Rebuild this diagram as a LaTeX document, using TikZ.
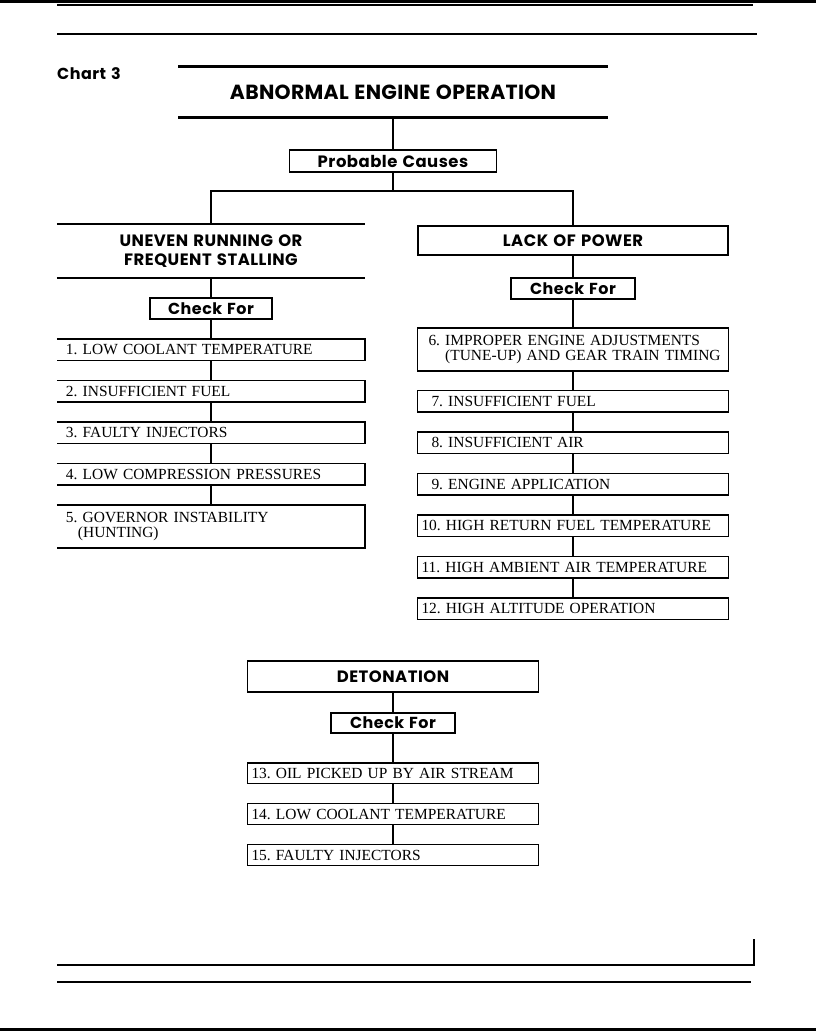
\documentclass[tikz,border=0pt]{standalone}
\usepackage{fontspec}
\setmainfont{Liberation Serif}
\newfontfamily\headfont[LetterSpace=3,WordSpace=1.3]{Poppins}
\newfontfamily\titlefont[LetterSpace=1.5,WordSpace=1.2]{Poppins}
\usepackage{tikz}
\usetikzlibrary{positioning}
\tikzset{
    heading/.style  ={rectangle, draw=black, line width=1.6bp, outer sep=0pt, inner sep=0pt, align=center, font=\headfont\bfseries\fontsize{16.5}{19}\selectfont},
    checkbox/.style ={rectangle, draw=black, line width=1.6bp, outer sep=0pt, minimum width=122bp, minimum height=21bp, inner sep=0pt, font=\headfont\bfseries\fontsize{16}{19}\selectfont},
    cause/.style    ={rectangle, draw=black, line width=1.3bp, outer sep=0pt, minimum height=21.5bp, inner xsep=4bp, inner ysep=0pt, align=left, font=\fontsize{15.5}{15.5}\selectfont},
    opencause/.style={cause, draw=none, inner xsep=9bp, text width=290bp},
    link/.style     ={line width=2.2bp},
    pagerule/.style ={line width=1.4bp},
}

\begin{document}
\frenchspacing
\begin{tikzpicture}[x=1bp, y=-1bp]
    \useasboundingbox (0,0) rectangle (816,1031);
    % page edges and rules
    \fill (0,0) rectangle (816,2.5);
    \fill (0,1027.5) rectangle (816,1031);
    \draw[pagerule] (57,5) -- (753,5);
    \draw[pagerule] (57,34) -- (757,34);
    \draw[pagerule] (57,965) -- (754,965) -- (754,939);
    \draw[pagerule] (57,982) -- (751,982);

    % title
    \node[anchor=base west, inner sep=0pt, font=\headfont\bfseries\fontsize{16}{19}\selectfont] (chart) at (57,79) {Chart 3};
    \node[minimum width=429bp, minimum height=51bp, inner sep=0pt, outer sep=0pt, font=\titlefont\bfseries\fontsize{20.5}{24}\selectfont] (title) at (393,92) {ABNORMAL ENGINE OPERATION};
    \draw[line width=3bp] (title.north west) -- (title.north east) (title.south west) -- (title.south east);
    \node[heading, minimum width=207bp, minimum height=22bp] (causes) at (393,161) {Probable Causes};
    \draw[link] (title) -- (causes);
    \draw[link] (causes.south) -- ++(0,19) coordinate (split);

    % left branch
    \node[heading, draw=none, minimum width=308bp, minimum height=54bp] (uneven) at (211,251) {UNEVEN RUNNING OR\\FREQUENT STALLING};
    \draw[pagerule] (uneven.north west) -- (uneven.north east) (uneven.south west) -- (uneven.south east);
    \node[checkbox, below=20bp of uneven] (lcheck) {Check For};
    \node[opencause, below=20bp of lcheck] (c1) {1. LOW COOLANT TEMPERATURE};
    \node[opencause, below=20bp of c1] (c2) {2. INSUFFICIENT FUEL};
    \node[opencause, below=20bp of c2] (c3) {3. FAULTY INJECTORS};
    \node[opencause, below=20bp of c3] (c4) {4. LOW COMPRESSION PRESSURES};
    \node[opencause, below=20bp of c4, minimum height=43bp] (c5) {5. GOVERNOR INSTABILITY\\\hspace*{12bp}(HUNTING)};
    \foreach \n in {c1,c2,c3,c4,c5}
        \draw[line width=1.3bp] (\n.north west) -- (\n.north east) -- (\n.south east) -- (\n.south west);

    % right branch
    \node[heading, minimum width=310bp, minimum height=29bp] (lack) at (573,240.5) {LACK OF POWER};
    \node[checkbox, below=23bp of lack, minimum width=124bp] (rcheck) {Check For};
    \node[cause, text width=303bp, below=29bp of rcheck, minimum height=43bp] (c6) {\hspace*{7bp}6. IMPROPER ENGINE ADJUSTMENTS\\\hspace*{7bp}\hphantom{6.}\ (TUNE-UP) AND GEAR TRAIN TIMING};
    \node[cause, text width=303bp, below=19.5bp of c6] (c7) {\hspace*{10bp}7. INSUFFICIENT FUEL};
    \node[cause, text width=303bp, below=20bp of c7] (c8) {\hspace*{10bp}8. INSUFFICIENT AIR};
    \node[cause, text width=303bp, below=20bp of c8] (c9) {\hspace*{10bp}9. ENGINE APPLICATION};
    \node[cause, text width=303bp, below=20bp of c9] (c10) {10. HIGH RETURN FUEL TEMPERATURE};
    \node[cause, text width=303bp, below=20bp of c10] (c11) {11. HIGH AMBIENT AIR TEMPERATURE};
    \node[cause, text width=303bp, below=20bp of c11] (c12) {12. HIGH ALTITUDE OPERATION};

    \draw[link] (split) -| (uneven.north);
    \draw[link] (split) -| (lack.north);

    % detonation
    \node[heading, minimum width=291bp, minimum height=31bp] (deton) at (393,676.5) {DETONATION};
    \node[checkbox, below=21bp of deton, minimum width=124bp, minimum height=20bp] (dcheck) {Check For};
    \node[cause, text width=283bp, below=30bp of dcheck, minimum height=20.5bp] (c13) {13. OIL PICKED UP BY AIR STREAM};
    \node[cause, text width=283bp, below=20bp of c13, minimum height=21bp] (c14) {14. LOW COOLANT TEMPERATURE};
    \node[cause, text width=283bp, below=20bp of c14, minimum height=21bp] (c15) {15. FAULTY INJECTORS};

    \foreach \a/\b in {uneven/lcheck, lcheck/c1, c1/c2, c2/c3, c3/c4, c4/c5,
                       lack/rcheck, rcheck/c6, c6/c7, c7/c8, c8/c9, c9/c10, c10/c11, c11/c12,
                       deton/dcheck, dcheck/c13, c13/c14, c14/c15}
        \draw[link] (\a) -- (\b);
\end{tikzpicture}
\end{document}
